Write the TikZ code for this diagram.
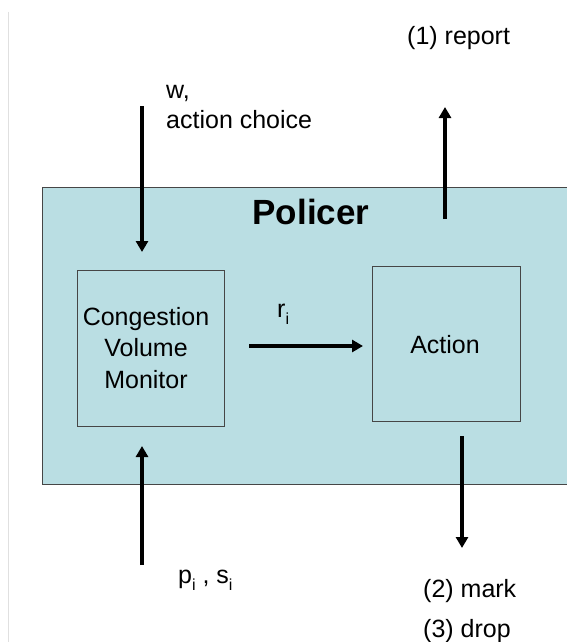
\documentclass[tikz,border=0pt]{standalone}
\usepackage{fontspec}
\setmainfont{Liberation Sans}
\usetikzlibrary{arrows.meta}
\definecolor{policerfill}{RGB}{186,222,227}
\definecolor{edgegray}{RGB}{70,70,70}
% small lowered index letter
\newcommand{\lowidx}[1]{\raisebox{-7pt}{\fontsize{16}{16}\selectfont #1}}
\begin{document}
\begin{tikzpicture}[x=1pt,y=-1pt,
  flow/.style={line width=3.2pt,-{Triangle[width=12pt,length=11pt]}},
  block/.style={draw=edgegray,line width=1pt,fill=policerfill,inner sep=0pt},
  lbl/.style={font=\fontsize{25}{30}\selectfont,inner sep=0pt}]
  \clip (0,0) rectangle (567,642);
  \fill[white] (0,0) rectangle (567,642);
  % faint page edge on the left
  \draw[black!12,line width=1pt] (8,12) -- (8,642);

  % outer policer block (runs past the right edge)
  \node[block,minimum width=560pt,minimum height=297pt,anchor=north west] (policer) at (42,187) {};
  \node[lbl,font=\bfseries\fontsize{35}{40}\selectfont,anchor=base] (title) at (311,224) {Policer};

  % inner blocks
  \node[block,minimum width=147pt,minimum height=156pt] (cvm) at (150.5,348) {};
  \node[lbl,align=center,font=\fontsize{25}{31.5}\selectfont,anchor=base] (cvmtext) at (146,388)
    {Congestion\\Volume\\Monitor};
  \node[block,minimum width=148pt,minimum height=155pt] (action) at (446,343.5) {};
  \node[lbl,anchor=base] (actiontext) at (445,353) {Action};

  % arrow end points
  \coordinate (win)  at (142,106);
  \coordinate (wend) at (142,252);
  \coordinate (rstart) at (445,219);
  \coordinate (rend)   at (445,107);
  \coordinate (ristart) at (249,346);
  \coordinate (riend)   at (363,346);
  \coordinate (pin)  at (142,565);
  \coordinate (pend) at (142,446);
  \coordinate (mstart) at (462,436);
  \coordinate (mend)   at (462,548);

  \draw[flow] (win) -- (wend);
  \draw[flow] (rstart) -- (rend);
  \draw[flow] (ristart) -- (riend);
  \draw[flow] (pin) -- (pend);
  \draw[flow] (mstart) -- (mend);

  % labels
  \node[lbl,anchor=base west] (report) at (407,45) {(1) report};
  \node[lbl,anchor=base west] (wlabel) at (166,98) {w,};
  \node[lbl,anchor=base west] (choice) at (166,128) {action choice};
  \node[lbl,anchor=base west] (rlabel) at (277,317) {r\lowidx{i}};
  \node[lbl,anchor=base west] (pslabel) at (178,583) {p\lowidx{i} , s\lowidx{i}};
  \node[lbl,anchor=base west] (mark) at (423,597) {(2) mark};
  \node[lbl,anchor=base west] (drop) at (423,637) {(3) drop};
\end{tikzpicture}
\end{document}
